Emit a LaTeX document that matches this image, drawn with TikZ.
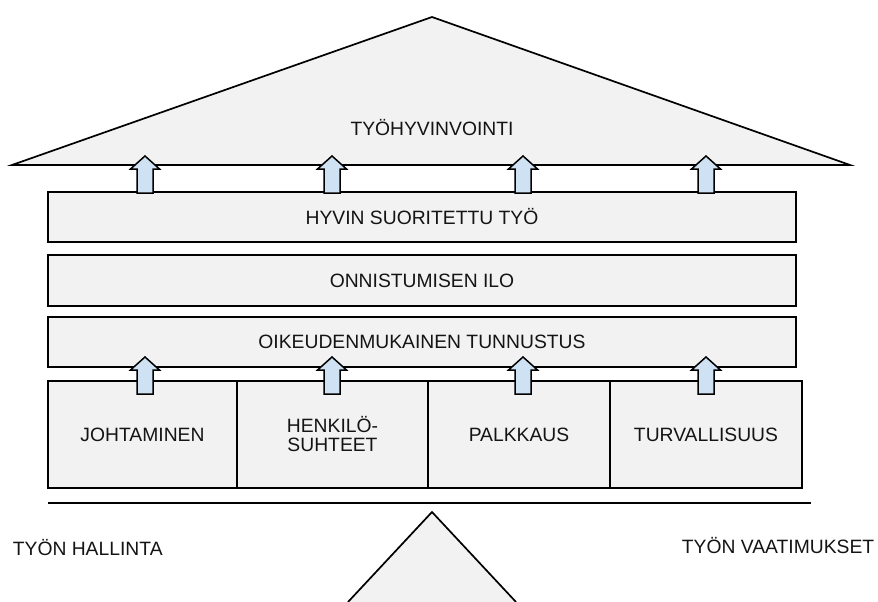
\documentclass[tikz,border=0pt]{standalone}
\usepackage{fontspec}
\setmainfont{Liberation Sans}
\definecolor{boxgray}{HTML}{F2F2F2}
\definecolor{arrblue}{HTML}{CFE2F3}
\definecolor{txt}{HTML}{141414}
\begin{document}
\begin{tikzpicture}[x=1pt,y=-1pt,line width=1.7pt,
  lbl/.style={inner sep=0pt,text=txt,font=\fontsize{19.3}{22}\selectfont},
  box/.style={lbl,draw=black,fill=boxgray,align=center},
  upar/.style={draw=black,fill=arrblue,line width=1.5pt,line join=miter},
  uparrow/.pic={\draw[upar] (-8,0) -- (-8,-24) -- (-14.5,-24) -- (0,-37) -- (14.5,-24) -- (8,-24) -- (8,0) -- cycle;}]
\useasboundingbox (0,0) rectangle (878,602);
\fill[white] (0,0) rectangle (878,602);
% roof
\draw[fill=boxgray,line join=miter] (12,165) -- (432,17) -- (850,165) -- cycle;
\node[lbl] (roof) at (432,128) {TYÖHYVINVOINTI};
% bars
\node[box,minimum width=748pt,minimum height=50pt] (b1) at (422,217) {HYVIN SUORITETTU TYÖ};
\node[box,minimum width=748pt,minimum height=51pt] (b2) at (422,280.5) {ONNISTUMISEN ILO};
\node[box,minimum width=748pt,minimum height=50pt] (b3) at (422,342) {OIKEUDENMUKAINEN TUNNUSTUS};
% bottom boxes
\node[box,minimum width=189pt,minimum height=107pt] (p1) at (142.5,434.5) {JOHTAMINEN};
\node[box,minimum width=191pt,minimum height=107pt] (p2) at (332.5,434.5) {HENKILÖ-\\[-3pt]SUHTEET};
\node[box,minimum width=182pt,minimum height=107pt] (p3) at (519,434.5) {PALKKAUS};
\node[box,minimum width=192pt,minimum height=107pt] (p4) at (706,434.5) {TURVALLISUUS};
% arrows
\foreach \ax in {145,332,523,706}{
  \pic at (\ax,193) {uparrow};
  \pic at (\ax,394) {uparrow};
}
% base line
\draw (48,503) -- (811,503);
% fulcrum
\fill[boxgray] (348,602) -- (432,512) -- (516,602) -- cycle;
\draw[line join=miter] (348,602) -- (432,512) -- (516,602);
% side labels
\node[lbl,anchor=west] (hal) at (12,548) {TYÖN HALLINTA};
\node[lbl,anchor=east] (vaa) at (875,546) {TYÖN VAATIMUKSET};
\end{tikzpicture}
\end{document}
